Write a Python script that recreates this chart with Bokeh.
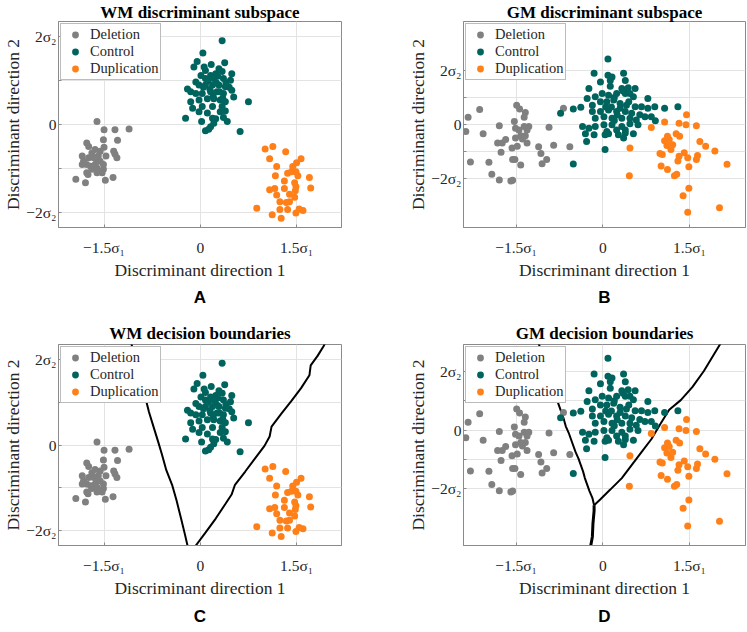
from bokeh.plotting import figure
from bokeh.layouts import column, row
from bokeh.models import Range1d, FixedTicker, Legend, LegendItem, Title
from bokeh.embed import file_html
from bokeh.resources import INLINE

# ---------------- data ----------------
CLASSES = ["Deletion", "Control", "Duplication"]
COLORS = ["#808080", "#00645e", "#ff8019"]

# WM discriminant subspace (panels A, C)
wm_deletion_x = [-1.61, -1.50, -1.33, -1.11, -1.51, -1.29, -1.77, -1.74, -1.50, -1.64, -1.69, -1.56, -1.35, -1.33,
                 -1.30, -1.84, -1.82, -1.74, -1.66, -1.59, -1.47, -1.61, -1.56, -1.77, -1.71, -1.64, -1.51, -1.69,
                 -1.59, -1.51, -1.77, -1.61, -1.53, -1.94, -1.79, -1.75, -1.48, -1.36, -1.84, -1.61]
wm_deletion_y = [0.07, -0.12, -0.12, -0.10, -0.35, -0.36, -0.42, -0.50, -0.52, -0.57, -0.65, -0.61, -0.61, -0.68,
                 -0.76, -0.72, -0.84, -0.76, -0.76, -0.72, -0.72, -0.84, -0.84, -0.91, -0.95, -0.91, -0.91, -1.02,
                 -1.06, -1.02, -1.10, -1.10, -1.10, -1.25, -1.33, -1.14, -1.27, -1.21, -0.91, -0.99]
wm_control_x = [0.34, 0.04, -0.05, -0.10, 0.06, 0.17, 0.08, 0.29, 0.38, 0.34, 0.49, 0.24, 0.16, 0.01, -0.07, 0.08,
                0.21, 0.36, 0.47, -0.20, -0.15, -0.02, 0.08, 0.19, 0.29, 0.39, 0.49, 0.52, -0.07, 0.03, 0.16, 0.26,
                0.36, -0.15, -0.02, 0.11, 0.21, 0.31, 0.39, 0.75, -0.12, 0.03, 0.19, 0.34, 0.39, -0.23, -0.02, 0.11,
                0.31, 0.02, 0.19, 0.24, 0.36, 0.42, 0.08, 0.13, 0.62, 0.21, 0.16, 0.25, 0.30, 0.20, 0.35, 0.12, 0.27,
                0.40, 0.15, 0.05, 0.45]
wm_control_y = [1.91, 1.63, 1.44, 1.31, 1.31, 1.37, 1.23, 1.27, 1.41, 1.21, 1.16, 1.16, 1.12, 1.12, 0.97, 1.05,
                1.05, 1.05, 1.01, 0.81, 0.75, 0.90, 0.90, 0.90, 0.90, 0.86, 0.78, 0.63, 0.71, 0.71, 0.75, 0.75,
                0.71, 0.52, 0.56, 0.59, 0.59, 0.56, 0.52, 0.52, 0.37, 0.41, 0.41, 0.41, 0.31, 0.14, 0.29, 0.26,
                0.29, 0.07, 0.14, 0.13, 0.16, 0.07, -0.14, -0.11, -0.16, 0.03, -0.05, 0.95, 0.75, 0.65, 0.60, 1.00,
                1.10, 0.95, 0.80, 0.85, 0.85]
wm_duplication_x = [1.01, 1.13, 1.33, 1.08, 1.57, 1.50, 1.44, 1.19, 1.36, 1.42, 1.49, 1.52, 1.17, 1.70, 1.31, 1.47,
                    1.08, 1.16, 1.31, 1.49, 1.48, 1.72, 1.19, 1.39, 1.47, 1.24, 1.34, 1.39, 0.88, 1.24, 1.36, 1.54,
                    1.60, 1.49, 1.12, 1.26]
wm_duplication_y = [-0.56, -0.50, -0.62, -0.78, -0.78, -0.87, -0.96, -0.96, -1.11, -1.08, -1.08, -1.17, -1.17,
                    -1.21, -1.29, -1.33, -1.49, -1.46, -1.46, -1.42, -1.51, -1.45, -1.61, -1.59, -1.66, -1.76,
                    -1.78, -1.76, -1.91, -1.94, -1.94, -1.93, -1.96, -2.02, -2.06, -2.14]

# GM discriminant subspace (panels B, D)
gm_deletion_x = [-2.33, -2.13, -2.37, -2.29, -2.07, -1.97, -1.92, -1.79, -1.59, -1.56, -1.79, -1.82, -1.74, -1.76,
                 -1.68, -1.57, -1.56, -1.52, -1.48, -1.42, -1.53, -1.49, -1.44, -1.34, -1.36, -1.51, -1.45, -1.36,
                 -1.31, -1.42, -1.51, -1.39, -1.31, -1.34, -1.28, -0.93, -1.11, -1.07, -0.97, -1.05, -0.85, -0.57,
                 -0.68]
gm_deletion_y = [0.27, 0.56, -0.26, -1.39, -0.34, -1.40, -1.85, -2.06, -2.10, -2.07, -0.05, -0.69, -0.69, -1.03,
                 -0.56, -0.87, -1.30, -1.30, -0.81, -1.51, 0.11, 0.72, 0.58, 0.45, 0.27, -0.14, -0.20, -0.07,
                 -0.20, -0.42, -0.50, -0.54, -0.69, -0.42, -0.07, -0.10, -0.83, -1.08, -1.30, -1.46, -0.77, -0.83,
                 0.60]
gm_control_x = [0.09, -0.15, 0.09, 0.16, 0.13, 0.36, 0.39, -0.04, -0.24, 0.13, 0.33, 0.44, 0.56, -0.27, -0.13,
                -0.01, 0.10, 0.24, 0.39, 0.47, 0.53, 0.78, -0.18, -0.04, 0.07, 0.19, 0.30, 0.41, 0.56, 0.67, 0.78,
                0.90, -0.18, -0.04, 0.10, 0.24, 0.39, 0.50, 0.64, 0.73, 0.84, -0.13, 0.02, 0.16, 0.33, 0.47, 0.58,
                -0.35, -0.24, -0.13, 0.02, 0.16, 0.33, 0.47, 0.61, 0.24, 0.39, 0.07, -0.30, -0.15, 0.10, 0.53, 0.04,
                0.39, 0.36, 0.27, -0.73, -0.51, -0.38, -0.28, 0.04, -0.51, 1.07, 1.30, 0.91, 0.20, 0.30, 0.15, 0.45,
                0.25, 0.05, 0.35, 0.20]
gm_control_y = [2.44, 1.91, 1.83, 1.77, 1.64, 1.91, 1.64, 1.58, 1.34, 1.42, 1.34, 1.37, 1.34, 0.97, 1.03, 1.15,
                1.09, 1.15, 1.15, 1.15, 1.03, 0.97, 0.72, 0.85, 0.85, 0.91, 0.78, 0.72, 0.66, 0.66, 0.60, 0.66,
                0.48, 0.48, 0.54, 0.48, 0.48, 0.42, 0.36, 0.29, 0.29, 0.23, 0.29, 0.23, 0.23, 0.23, 0.17, -0.07,
                -0.14, -0.07, -0.01, -0.01, -0.07, 0.03, -0.01, -0.20, -0.20, -0.26, -0.34, -0.38, -0.34, -0.34,
                -0.38, -0.32, -0.50, -0.38, 0.42, 0.58, 0.64, -0.63, -0.93, -1.47, 0.60, 0.66, 0.14, 1.00, 0.60,
                0.65, 0.85, 0.35, 0.65, 1.25, 0.15]
gm_duplication_x = [1.45, 1.07, 1.32, 1.44, 1.62, 0.84, 1.27, 1.33, 1.12, 1.07, 1.15, 1.21, 1.18, 1.03, 0.99, 1.11,
                    0.47, 1.68, 1.78, 1.94, 1.41, 1.32, 1.47, 1.64, 1.62, 1.30, 1.49, 1.01, 1.12, 1.28, 1.24, 2.15,
                    0.46, 1.49, 1.39, 1.47, 2.02]
gm_duplication_y = [0.36, 0.09, 0.05, -0.01, -0.05, -0.11, -0.34, -0.44, -0.44, -0.60, -0.56, -0.75, -0.93, -1.12,
                    -1.08, -0.78, -0.87, -0.63, -0.81, -0.99, -1.05, -1.18, -1.24, -1.15, -1.30, -1.36, -1.57,
                    -1.54, -1.67, -1.85, -1.91, -1.48, -1.91, -2.37, -2.65, -3.26, -3.10]

# decision boundaries
wm_bound1_x = [-1.08, -0.85, -0.80, -0.73, -0.66, -0.60, -0.53, -0.44, -0.37, -0.30, -0.24, -0.20, -0.19]
wm_bound1_y = [2.40, 1.07, 0.77, 0.43, 0.09, -0.21, -0.59, -0.93, -1.30, -1.72, -2.09, -2.35, -2.40]
wm_bound2_x = [-0.10, -0.07, 0.08, 0.24, 0.39, 0.49, 0.54, 0.70, 0.85, 1.00, 1.08, 1.11, 1.26, 1.42, 1.57, 1.70,
               1.72, 1.83, 1.92, 1.95]
wm_bound2_y = [-2.40, -2.35, -2.05, -1.72, -1.38, -1.15, -0.93, -0.62, -0.32, -0.02, 0.20, 0.43, 0.73, 1.03, 1.33,
               1.63, 1.86, 2.09, 2.31, 2.40]
gm_bound1_x = [-1.11, -0.81, -0.76, -0.72, -0.68, -0.64, -0.59, -0.55, -0.51, -0.47, -0.42, -0.38, -0.34, -0.31,
               -0.27, -0.23, -0.18, -0.15]
gm_bound1_y = [2.95, 1.13, 0.85, 0.63, 0.41, 0.13, -0.09, -0.31, -0.53, -0.75, -0.97, -1.19, -1.41, -1.63, -1.85,
               -2.07, -2.30, -2.55]
gm_bound2_x = [-0.15, -0.04, 0.13, 0.33, 0.50, 0.67, 0.84, 1.01, 1.15, 1.35, 1.55, 1.75, 1.92, 2.04]
gm_bound2_y = [-2.55, -2.35, -2.02, -1.63, -1.19, -0.75, -0.31, 0.25, 0.69, 1.02, 1.46, 2.01, 2.56, 2.95]
gm_bound3_x = [-0.15, -0.15, -0.17, -0.18, -0.21, -0.22]
gm_bound3_y = [-2.55, -2.74, -3.18, -3.62, -3.95, -4.00]

x_ticks = [-1.5, 0, 1.5]
x_tick_labels = ["\u22121.5\u03c3\u2081", "0", "1.5\u03c3\u2081"]
y_ticks = [-2, -1, 0, 1, 2]
y_tick_labels = ["\u22122\u03c3\u2082", "", "0", "", "2\u03c3\u2082"]

SERIF = "'Liberation Serif', 'DejaVu Serif', serif"
SANS = "'Liberation Sans', 'Open Sans', sans-serif"
TXT = "#262626"
GRAYLINE = "#8a8a8a"


def panel(title, letter, dx, dy, xr, yr, bounds, top, left):
    bl, br = 54, (64 if left else 1)
    bt, bb = (19, 93) if top else (23, 81)
    fw = 287 if left else 286
    fh = 208 if top else 206
    p = figure(x_range=Range1d(*xr), y_range=Range1d(*yr),
               width=bl + fw + br, height=bt + fh + bb,
               output_backend="svg", toolbar_location=None,
               min_border_left=bl, min_border_right=br, min_border_top=bt, min_border_bottom=bb,
               background_fill_color="white", border_fill_color="white")
    p.title.text = title
    p.title.align = "center"
    p.title.text_font = SERIF
    p.title.text_font_size = "17px"
    p.title.text_font_style = "bold"
    p.title.text_color = "black"
    p.title.standoff = 0 if top else 3
    p.outline_line_color = GRAYLINE
    p.outline_line_width = 1
    for ax, ticks, labels in ((p.xaxis[0], x_ticks, x_tick_labels), (p.yaxis[0], y_ticks, y_tick_labels)):
        ax.ticker = FixedTicker(ticks=ticks)
        ax.major_label_overrides = {t: l for t, l in zip(ticks, labels)}
        ax.major_label_text_font = SERIF
        ax.major_label_text_font_size = "15.5px"
        ax.major_label_text_color = TXT
        ax.axis_label_text_font = SERIF
        ax.axis_label_text_font_size = "17.5px"
        ax.axis_label_text_font_style = "normal"
        ax.axis_label_text_color = TXT
        ax.axis_line_color = GRAYLINE
        ax.major_tick_line_color = GRAYLINE
        ax.major_tick_in = 3
        ax.major_tick_out = 0
        ax.minor_tick_line_color = None
    p.xaxis.axis_label = "Discriminant direction 1"
    p.yaxis.axis_label = "Discriminant direction 2"
    p.xaxis.major_label_standoff = 11
    p.xaxis.axis_label_standoff = 1
    p.yaxis.major_label_standoff = 2
    p.yaxis.axis_label_standoff = 0
    p.xgrid.ticker = FixedTicker(ticks=x_ticks)
    p.ygrid.ticker = FixedTicker(ticks=y_ticks)
    p.grid.grid_line_color = "#e3e3e3"
    p.grid.grid_line_width = 1

    for bx, by, w in bounds:
        p.line(bx, by, line_color="black", line_width=w)

    items = []
    for i, name in enumerate(CLASSES):
        r = p.scatter(dx[i], dy[i], size=7, fill_color=COLORS[i], line_color=None)
        items.append(LegendItem(label=name, renderers=[r]))
    leg = Legend(items=items, location="top_left", margin=2, padding=2, spacing=0,
                 label_height=17, glyph_height=17, glyph_width=24, label_standoff=3,
                 label_text_font=SERIF, label_text_font_size="14.5px", label_text_color=TXT,
                 border_line_color="#7a7a7a", background_fill_alpha=1.0)
    p.add_layout(leg)

    p.add_layout(Title(text=letter, align="center", text_font=SANS, text_font_size="17px",
                       text_font_style="bold", text_color="black", standoff=7 if top else 9), "below")
    return p


wm_x = [wm_deletion_x, wm_control_x, wm_duplication_x]
wm_y = [wm_deletion_y, wm_control_y, wm_duplication_y]
gm_x = [gm_deletion_x, gm_control_x, gm_duplication_x]
gm_y = [gm_deletion_y, gm_control_y, gm_duplication_y]

pa = panel("WM discriminant subspace", "A", wm_x, wm_y, (-2.21, 2.20), (-2.35, 2.35), [], True, True)
pb = panel("GM discriminant subspace", "B", gm_x, gm_y, (-2.41, 2.47), (-3.83, 3.83), [], True, False)
pc = panel("WM decision boundaries", "C", wm_x, wm_y, (-2.21, 2.20), (-2.35, 2.35),
           [(wm_bound1_x, wm_bound1_y, 2), (wm_bound2_x, wm_bound2_y, 2)], False, True)
pd = panel("GM decision boundaries", "D", gm_x, gm_y, (-2.41, 2.47), (-3.92, 2.91),
           [(gm_bound1_x, gm_bound1_y, 2), (gm_bound2_x, gm_bound2_y, 2), (gm_bound3_x, gm_bound3_y, 3)],
           False, False)

layout = column(row(pa, pb), row(pc, pd))
open("out.html", "w").write(file_html(layout, INLINE))
